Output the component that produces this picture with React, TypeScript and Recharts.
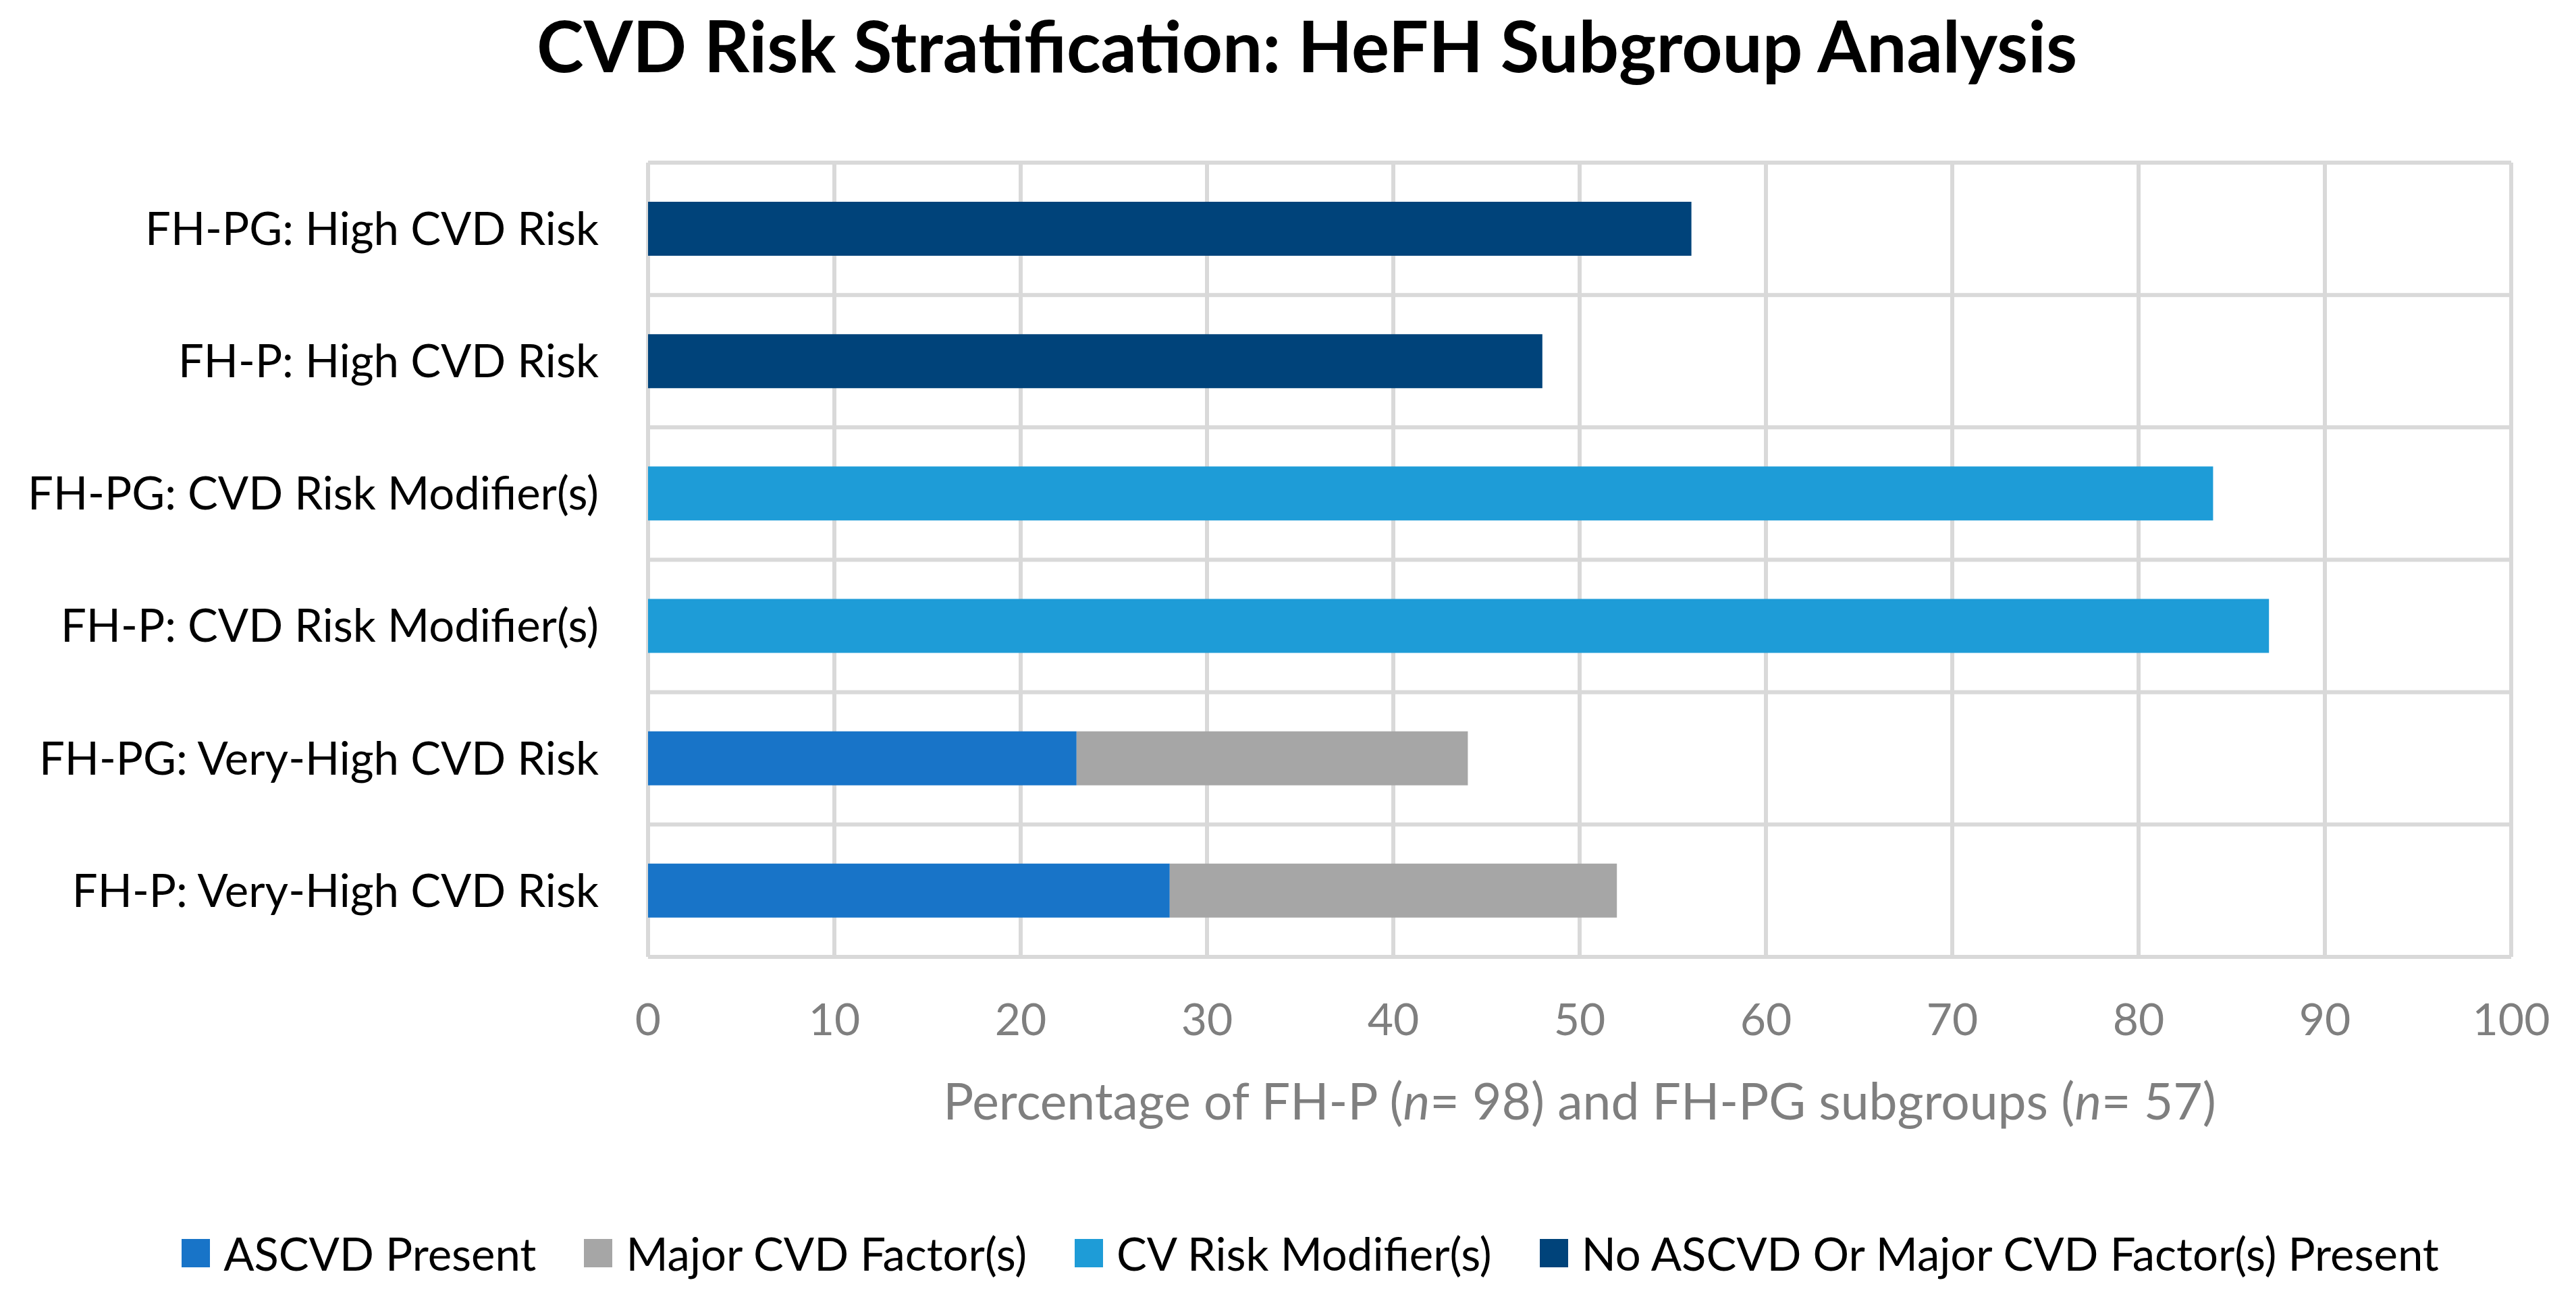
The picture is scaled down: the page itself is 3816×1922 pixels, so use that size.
import { Bar, BarChart, CartesianGrid, Legend, XAxis, YAxis } from "recharts";

const categories = [
  "FH-PG: High CVD Risk",
  "FH-P: High CVD Risk",
  "FH-PG: CVD Risk Modifier(s)",
  "FH-P: CVD Risk Modifier(s)",
  "FH-PG: Very-High CVD Risk",
  "FH-P: Very-High CVD Risk",
];
const ascvdPresent = [null, null, null, null, 23, 28];
const majorFactors = [null, null, null, null, 21, 24];
const riskModifiers = [null, null, 84, 87, null, null];
const noAscvd = [56, 48, null, null, null, null];
const xTicks = [0, 10, 20, 30, 40, 50, 60, 70, 80, 90, 100];

const SERIES = [
  { key: "ascvd", name: "ASCVD Present", color: "#1874C8" },
  { key: "major", name: "Major CVD Factor(s)", color: "#A6A6A6" },
  { key: "modifier", name: "CV Risk Modifier(s)", color: "#1E9CD7" },
  { key: "none", name: "No ASCVD Or Major CVD Factor(s) Present", color: "#00437A" },
];

const data = categories.map((name, i) => ({
  name,
  ascvd: ascvdPresent[i],
  major: majorFactors[i],
  modifier: riskModifiers[i],
  none: noAscvd[i],
}));

const FONT = "Lato, 'Open Sans', sans-serif";
const W = 3816;
const H = 1922;

function XLabel(props: any) {
  const vb = props.viewBox || {};
  const cx = vb.x + vb.width / 2;
  return (
    <text x={cx} y={vb.y + 241} textAnchor="middle" fill="#7F7F7F" fontSize={75} fontFamily={FONT}>
      <tspan>Percentage of FH-P (</tspan>
      <tspan fontStyle="italic">n</tspan>
      <tspan>= 98) and FH-PG subgroups (</tspan>
      <tspan fontStyle="italic">n</tspan>
      <tspan>= 57)</tspan>
    </text>
  );
}

function LegendContent(props: any) {
  const order = SERIES.map((s) => s.name);
  const items = [...(props.payload || [])].sort((a: any, b: any) => order.indexOf(a.value) - order.indexOf(b.value));
  return (
    <div style={{ display: "flex", justifyContent: "center", alignItems: "center", fontFamily: FONT, fontSize: 67, lineHeight: "64px", color: "#000" }}>
      {items.map((p: any, i: number) => (
        <div key={p.value} style={{ display: "flex", alignItems: "center", marginLeft: i === 0 ? 0 : 71 }}>
          <div style={{ width: 42, height: 42, background: p.color, marginRight: 20 }} />
          <span>{p.value}</span>
        </div>
      ))}
    </div>
  );
}

export default function App() {
  return (
    <div style={{ position: "absolute", left: 0, top: 0, width: W, height: H, background: "#fff" }}>
      <BarChart
        width={W}
        height={H}
        data={data}
        layout="vertical"
        margin={{ top: 241, right: 96, bottom: 204, left: 60 }}
      >
        <CartesianGrid
          stroke="#D9D9D9"
          strokeWidth={6}
          horizontalCoordinatesGenerator={({ offset }: any) =>
            categories.map((_, i) => offset.top + (offset.height * i) / categories.length).concat(offset.top + offset.height)
          }
        />
        <XAxis
          type="number"
          domain={[0, 100]}
          ticks={xTicks}
          interval={0}
          axisLine={false}
          tickLine={false}
          tickSize={0}
          tickMargin={69}
          height={300}
          tick={{ fill: "#7F7F7F", fontSize: 66, fontFamily: FONT }}
          label={{ content: XLabel }}
        />
        <YAxis
          type="category"
          dataKey="name"
          width={900}
          axisLine={false}
          tickLine={false}
          tickSize={0}
          tickMargin={73}
          interval={0}
          tick={{ fill: "#000", fontSize: 67, fontFamily: FONT }}
        />
        <Legend
          layout="horizontal"
          verticalAlign="middle"
          align="center"
          wrapperStyle={{ top: 1825, left: 76, width: 3730 }}
          content={LegendContent}
        />
        {SERIES.map((s) => (
          <Bar key={s.key} dataKey={s.key} name={s.name} stackId="a" fill={s.color} barSize={80} isAnimationActive={false} />
        ))}
      </BarChart>
      <svg width={W} height={200} style={{ position: "absolute", left: 0, top: 0, pointerEvents: "none" }}>
        <text x={1936} y={107} textAnchor="middle" fontSize={105} fontWeight={700} fontFamily={FONT} fill="#000">
          CVD Risk Stratification: HeFH Subgroup Analysis
        </text>
      </svg>
    </div>
  );
}
